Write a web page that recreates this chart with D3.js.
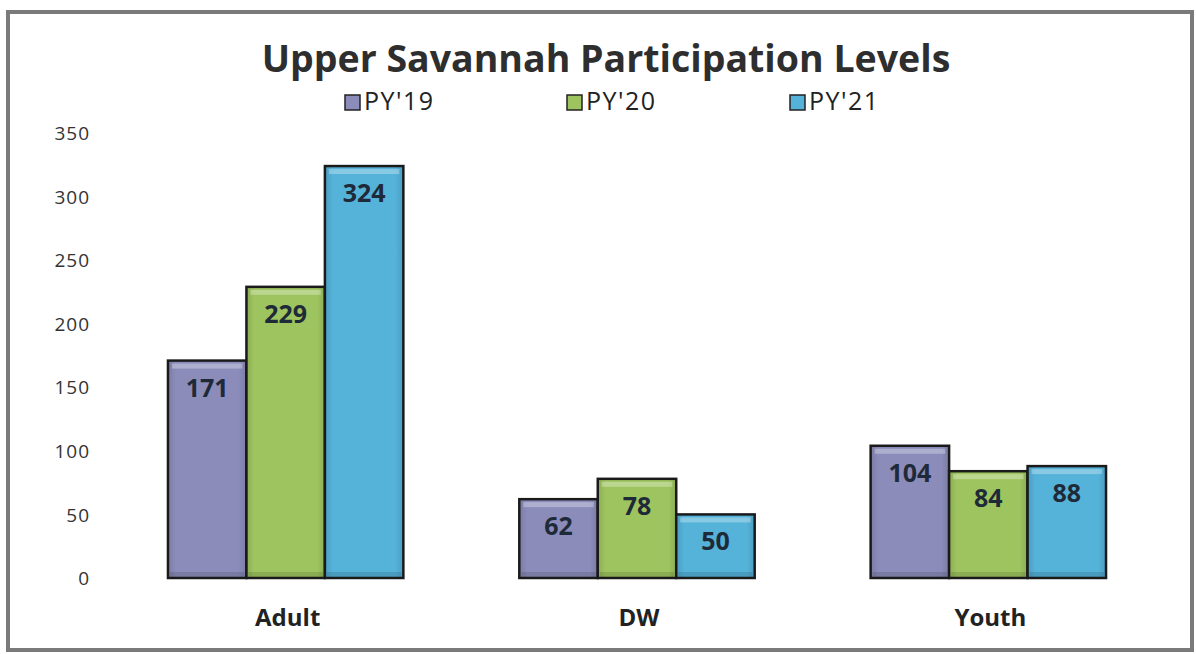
<!DOCTYPE html>
<html>
<head>
<meta charset="utf-8">
<script src="https://cdn.jsdelivr.net/npm/d3@7"></script>
<style>
  body { margin: 0; background: #fff; }
  svg text { font-family: "Open Sans", Lato, sans-serif; }
</style>
</head>
<body>
<div class="svg-target"></div>
<script>
const categories = ['Adult', 'DW', 'Youth'];
const seriesNames = ["PY'19", "PY'20", "PY'21"];
const py19 = [171, 62, 104];
const py20 = [229, 78, 84];
const py21 = [324, 50, 88];
const yTicks = [0, 50, 100, 150, 200, 250, 300, 350];

const colors = ['#8b8cba', '#9ec45f', '#55b2d9'];

const w = 1196;
const h = 654;

const svg = d3.select('.svg-target')
    .append('svg')
    .attr('width', w)
    .attr('height', h);

// frame
svg.append('rect')
    .attr('x', 8).attr('y', 12)
    .attr('width', 1184).attr('height', 638)
    .attr('fill', '#fff')
    .attr('stroke', '#7a7a7a')
    .attr('stroke-width', 4);

// bevel gradients
const defs = svg.append('defs');
colors.forEach((c, i) => {
    const g = defs.append('linearGradient')
        .attr('id', `grad${i}`)
        .attr('x1', 0).attr('x2', 1).attr('y1', 0).attr('y2', 0);
    g.append('stop').attr('offset', '0%').attr('stop-color', d3.color(c).darker(0.35));
    g.append('stop').attr('offset', '10%').attr('stop-color', c);
    g.append('stop').attr('offset', '90%').attr('stop-color', c);
    g.append('stop').attr('offset', '100%').attr('stop-color', d3.color(c).darker(0.35));
});

// title
svg.append('text')
    .attr('x', 606).attr('y', 72)
    .attr('text-anchor', 'middle')
    .attr('font-size', 37.5)
    .attr('font-weight', 'bold')
    .attr('fill', '#2e2e2e')
    .text('Upper Savannah Participation Levels');

// legend
const legendX = [345, 567, 790];
seriesNames.forEach((s, i) => {
    svg.append('rect')
        .attr('x', legendX[i]).attr('y', 95)
        .attr('width', 15).attr('height', 15)
        .attr('fill', colors[i])
        .attr('stroke', '#222')
        .attr('stroke-width', 1.5);
    svg.append('text')
        .attr('x', legendX[i] + 19).attr('y', 110)
        .attr('font-size', 25)
        .attr('letter-spacing', 1.5)
        .attr('fill', '#222')
        .text(s);
});

// scales
const x0 = d3.scaleBand()
    .domain(categories)
    .range([110, 1164])
    .paddingInner(0.33)
    .paddingOuter(0.165);

const x1 = d3.scaleBand()
    .domain(seriesNames)
    .range([0, x0.bandwidth()]);

const yScale = d3.scaleLinear()
    .domain([0, 350])
    .range([578, 133]);

// y axis
const yAxis = d3.axisLeft(yScale)
    .tickValues(yTicks)
    .tickSize(0)
    .tickPadding(0);

svg.append('g')
    .attr('transform', 'translate(90, 0)')
    .call(yAxis)
    .call(g => g.select('.domain').remove())
    .call(g => g.selectAll('text')
        .attr('font-size', 19)
        .attr('letter-spacing', 1)
        .attr('fill', '#333')
        .attr('dy', '0.35em'));

// x labels
const xAxis = d3.axisBottom(x0).tickSize(0).tickPadding(0);
svg.append('g')
    .attr('transform', 'translate(2, 618)')
    .call(xAxis)
    .call(g => g.select('.domain').remove())
    .call(g => g.selectAll('text')
        .attr('font-size', 24)
        .attr('font-weight', 'bold')
        .attr('fill', '#222')
        .attr('dy', '0.35em'));

// bars
const series = [py19, py20, py21];
const rows = [];
categories.forEach((c, ci) => {
    seriesNames.forEach((s, si) => {
        rows.push({ cat: c, name: s, idx: si, value: series[si][ci] });
    });
});

const groups = svg.selectAll('.bar')
    .data(rows)
    .enter()
    .append('g')
    .attr('class', 'bar')
    .attr('transform', d => `translate(${x0(d.cat) + x1(d.name)}, 0)`);

groups.append('rect')
    .attr('x', 0)
    .attr('y', d => yScale(d.value))
    .attr('width', x1.bandwidth())
    .attr('height', d => yScale(0) - yScale(d.value))
    .attr('fill', d => `url(#grad${d.idx})`)
    .attr('stroke', '#1a1a1a')
    .attr('stroke-width', 2.5);

// top highlight of the bevel
groups.append('rect')
    .attr('x', 4)
    .attr('y', d => yScale(d.value) + 3)
    .attr('width', x1.bandwidth() - 8)
    .attr('height', 5)
    .attr('fill', '#fff')
    .attr('opacity', 0.3);

// bottom shade
groups.append('rect')
    .attr('x', 2)
    .attr('y', yScale(0) - 6)
    .attr('width', x1.bandwidth() - 4)
    .attr('height', 5)
    .attr('fill', '#000')
    .attr('opacity', 0.12);

groups.append('text')
    .attr('x', x1.bandwidth() / 2)
    .attr('y', d => yScale(d.value) + 36)
    .attr('text-anchor', 'middle')
    .attr('font-size', 25)
    .attr('font-weight', 'bold')
    .attr('fill', '#1f2a38')
    .text(d => d.value);
</script>
</body>
</html>
